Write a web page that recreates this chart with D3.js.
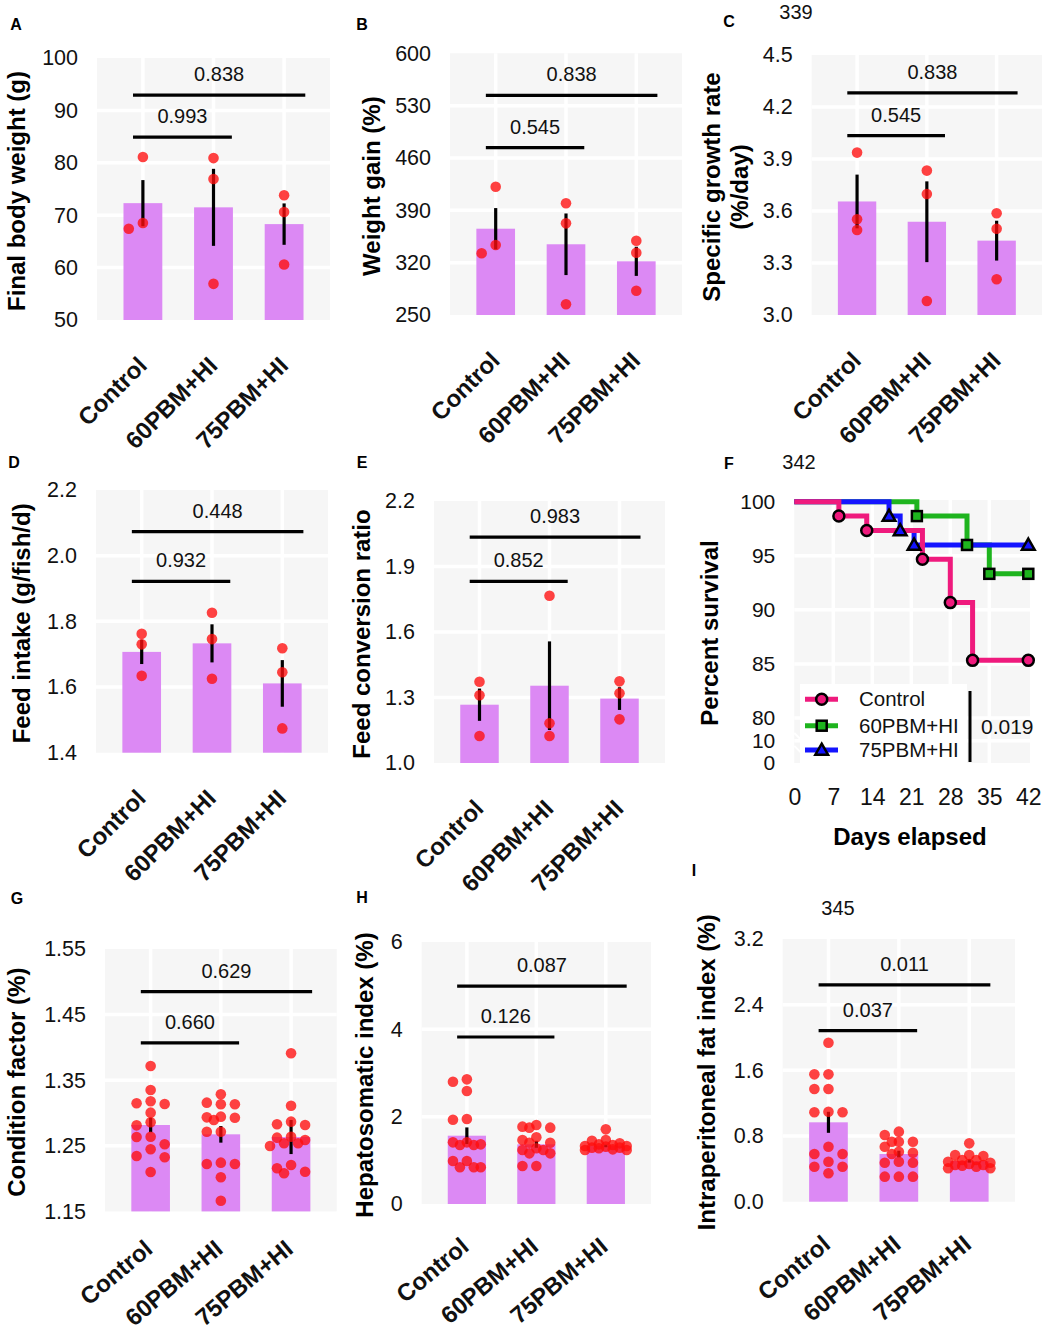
<!DOCTYPE html>
<html>
<head>
<meta charset="utf-8">
<script src="https://cdn.jsdelivr.net/npm/d3@7"></script>
<style>
body{margin:0;background:#fff}
svg{display:block;font-family:"Liberation Sans",Arial,sans-serif}
</style>
</head>
<body>
<svg id="fig" width="1048" height="1339"></svg>
<script>
const groups = ['Control','60PBM+HI','75PBM+HI']

// A final body weight
const fbwTicks = [50,60,70,80,90,100]
const fbwMean = [72.3,71.5,68.3]
const fbwSE = [4.4,7.35,3.95]
const fbwPoints = [[81.1,67.4,68.5],[80.9,76.9,56.9],[73.8,70.6,60.6]]
const fbwBracket = [84.9,92.9]
const fbwPval = ['0.993','0.838']

// B weight gain
const wgTicks = [250,320,390,460,530,600]
const wgMean = [365.4,344.6,321.8]
const wgSE = [27.6,41.2,19.5]
const wgPoints = [[421.6,332.5,343.6],[399.4,372.6,264.3],[349.4,333.3,282.5]]
const wgBracket = [473.8,543.6]
const wgPval = ['0.545','0.838']

// C specific growth rate
const sgrTicks = [3.0,3.3,3.6,3.9,4.2,4.5]
const sgrMean = [3.655,3.538,3.429]
const sgrSE = [0.155,0.233,0.115]
const sgrPoints = [[3.937,3.552,3.490],[3.833,3.698,3.081],[3.587,3.498,3.206]]
const sgrBracket = [4.035,4.281]
const sgrPval = ['0.545','0.838']

// D feed intake
const fiTicks = [1.4,1.6,1.8,2.0,2.2]
const fiMean = [1.707,1.733,1.611]
const fiSE = [0.037,0.058,0.071]
const fiPoints = [[1.762,1.730,1.634],[1.826,1.746,1.625],[1.718,1.645,1.474]]
const fiBracket = [1.922,2.073]
const fiPval = ['0.932','0.448']

// E feed conversion ratio
const fcrTicks = [1.0,1.3,1.6,1.9,2.2]
const fcrMean = [1.267,1.354,1.295]
const fcrSE = [0.074,0.203,0.052]
const fcrPoints = [[1.372,1.310,1.124],[1.766,1.182,1.124],[1.374,1.319,1.200]]
const fcrBracket = [1.832,2.035]
const fcrPval = ['0.852','0.983']

// F survival
const survGroups = ['Control','60PBM+HI','75PBM+HI']
const survDays = [[0,8,13,23,28,32,42],[0,22,31,35,42],[0,17,19,21.5,42]]
const survPct = [[100,98.67,97.33,94.67,90.67,85.33,85.33],[100,98.67,96.0,93.33,93.33],[100,98.67,97.33,96.0,96.0]]
const survXTicks = [0,7,14,21,28,35,42]
const survYTicks = [0,10,80,85,90,95,100]
const survPval = '0.019'

// G condition factor
const cfTicks = [1.15,1.25,1.35,1.45,1.55]
const cfMean = [1.2817,1.2675,1.2634]
const cfSE = [0.011,0.0127,0.026]
const cfPoints = [
  [1.3716,1.335,1.3148,1.3178,1.3137,1.3005,1.2858,1.2812,1.2639,1.2634,1.2523,1.2447,1.2325,1.2344,1.21],
  [1.3285,1.3133,1.3158,1.3133,1.2934,1.2944,1.2928,1.2893,1.2715,1.2715,1.2223,1.2243,1.2223,1.202,1.1663],
  [1.391,1.3111,1.2828,1.2868,1.2817,1.2588,1.2639,1.2497,1.2624,1.2538,1.2538,1.2207,1.2081,1.2105,1.2157]]
const cfBracket = [1.407,1.485]
const cfPval = ['0.660','0.629']

// H hepatosomatic index
const hsiTicks = [0,2,4,6]
const hsiMean = [1.564,1.367,1.33]
const hsiSE = [0.19,0.08,0.03]
const hsiPoints = [
  [2.801,2.855,2.588,1.946,1.931,1.412,1.351,1.366,1.351,1.412,0.985,0.985,0.84,0.84,0.84],
  [1.771,1.809,1.748,1.748,1.527,1.404,1.466,1.404,1.237,1.16,1.16,1.237,1.275,0.87,0.87],
  [1.71,1.466,1.45,1.389,1.313,1.29,1.366,1.351,1.237,1.237,1.275,1.29,1.252,1.328,1.328]]
const hsiBracket = [3.824,4.99]
const hsiPval = ['0.126','0.087']

// I intraperitoneal fat index
const ifiTicks = [0.0,0.8,1.6,2.4,3.2]
const ifiMean = [0.967,0.581,0.496]
const ifiSE = [0.128,0.04,0.02]
const ifiPoints = [
  [1.937,1.551,1.551,1.372,1.372,1.089,1.096,1.089,0.67,0.487,0.346,0.581,0.581,0.426,0.426],
  [0.853,0.812,0.731,0.731,0.731,0.67,0.581,0.597,0.609,0.475,0.475,0.487,0.305,0.305,0.305],
  [0.711,0.569,0.557,0.569,0.508,0.439,0.447,0.407,0.426,0.407,0.459,0.447,0.475,0.487,0.508]]
const ifiBracket = [2.083,2.64]
const ifiPval = ['0.037','0.011']

const BG = '#f6f6f6'
const BAR = '#dc89f4'
const PT = '#ff0d0d'
const survColors = ['#ef1a7d','#1eb41e','#1414ff']
const FONT = 'Liberation Sans, Arial, sans-serif'

const svg = d3.select('#fig')

// beeswarm-like offsets so close points sit side by side
let swarm = (vals, y, step, minDist) => {
    const order = vals.map((v,i)=>i).sort((a,b)=>vals[b]-vals[a])
    const cands = [0,-1,1,-0.5,0.5,-1.5,1.5]
    const placed = []
    const off = new Array(vals.length)
    order.forEach(i => {
        const py = y(vals[i])
        let best = 0, bestD = -1
        for (const c of cands){
            const same = placed.filter(p=>p.c===c)
            const d = same.length ? d3.min(same, p=>Math.abs(p.y-py)) : Infinity
            if (d >= minDist){ best = c; bestD = d; break }
            if (d > bestD){ bestD = d; best = c }
        }
        placed.push({c:best,y:py})
        off[i] = best*step
    })
    return off
}

let drawBarPanel = (p) => {
    const g = svg.append('g')
    const x = d3.scalePoint().domain(groups).range([p.left,p.right]).padding(0.65)
    const y = d3.scaleLinear().domain([p.ticks[0],p.ticks[p.ticks.length-1]]).range([p.bottom,p.top])
    const step = x.step()

    g.append('rect')
    .attr('x',p.left).attr('y',p.top)
    .attr('width',p.right-p.left).attr('height',p.bottom-p.top)
    .attr('fill',BG)

    g.selectAll('.hgrid').data(p.ticks.slice(1,-1)).enter().append('line')
    .attr('x1',p.left).attr('x2',p.right)
    .attr('y1',d=>y(d)).attr('y2',d=>y(d))
    .attr('stroke','#fff').attr('stroke-width',3.5)

    g.selectAll('.vgrid').data(groups).enter().append('line')
    .attr('x1',d=>x(d)).attr('x2',d=>x(d))
    .attr('y1',p.top).attr('y2',p.bottom)
    .attr('stroke','#fff').attr('stroke-width',3.5)

    g.selectAll('.bar').data(groups).enter().append('rect')
    .attr('x',d=>x(d)-step*0.275)
    .attr('width',step*0.55)
    .attr('y',(d,i)=>y(p.mean[i]))
    .attr('height',(d,i)=>p.bottom-y(p.mean[i]))
    .attr('fill',BAR)

    g.selectAll('.err').data(groups).enter().append('line')
    .attr('x1',d=>x(d)).attr('x2',d=>x(d))
    .attr('y1',(d,i)=>y(p.mean[i]-p.se[i]))
    .attr('y2',(d,i)=>y(p.mean[i]+p.se[i]))
    .attr('stroke','#000').attr('stroke-width',3.2)

    groups.forEach((grp,i) => {
        const off = swarm(p.pts[i], y, step*0.2, 9.5)
        g.selectAll(null).data(p.pts[i]).enter().append('circle')
        .attr('cx',(d,j)=>x(grp)+off[j])
        .attr('cy',d=>y(d))
        .attr('r',5.3)
        .attr('fill',PT).attr('fill-opacity',0.78)
    })

    // comparison brackets: Control vs 60PBM+HI, Control vs 75PBM+HI
    const pairs = [[0,1,0.26],[0,2,0.30]]
    pairs.forEach((pr,k) => {
        const x1 = x(groups[pr[0]]) - step*0.14
        const x2 = x(groups[pr[1]]) + step*pr[2]
        const yy = y(p.brk[k])
        g.append('line')
        .attr('x1',x1).attr('x2',x2).attr('y1',yy).attr('y2',yy)
        .attr('stroke','#000').attr('stroke-width',3.2)
        g.append('text')
        .attr('x',(x1+x2)/2).attr('y',yy-14)
        .attr('text-anchor','middle')
        .style('font-size','20px').attr('fill','#111')
        .text(p.pv[k])
    })

    // axes
    const ya = g.append('g')
    .attr('transform',`translate(${p.left},0)`)
    .call(d3.axisLeft(y).tickValues(p.ticks).tickFormat(d3.format(p.fmt)).tickSize(0).tickPadding(19))
    ya.select('.domain').remove()
    ya.selectAll('text').style('font-size','21.5px').attr('fill','#111').style('font-family',FONT)

    const xa = g.append('g')
    .attr('transform',`translate(0,${p.bottom})`)
    .call(d3.axisBottom(x).tickSize(0))
    xa.select('.domain').remove()
    xa.selectAll('text')
    .attr('x',0).attr('y',0).attr('dy',0)
    .attr('text-anchor','end')
    .attr('transform',p.lab)
    .style('font-size','24px').style('font-weight','bold').attr('fill','#111')
    .style('font-family',FONT)

    p.title.forEach((t,k) => {
        g.append('text')
        .attr('transform',`translate(${p.tx[k]},${(p.top+p.bottom)/2+2}) rotate(-90)`)
        .attr('text-anchor','middle').attr('dy','0.35em')
        .style('font-size','24px').style('font-weight','bold')
        .text(t)
    })

    svg.append('text')
    .attr('x',p.lx).attr('y',p.ly).attr('text-anchor','middle').attr('dy','0.36em')
    .style('font-size','16px').style('font-weight','bold')
    .text(p.letter)
}

const topLab = 'translate(5,47) rotate(-45)'
const barPanels = [
    {letter:'A',lx:16,ly:24,left:97,right:330,top:58,bottom:320,ticks:fbwTicks,fmt:'d',mean:fbwMean,se:fbwSE,pts:fbwPoints,brk:fbwBracket,pv:fbwPval,title:['Final body weight (g)'],tx:[17],lab:topLab},
    {letter:'B',lx:362,ly:24,left:450,right:682,top:53.3,bottom:315,ticks:wgTicks,fmt:'d',mean:wgMean,se:wgSE,pts:wgPoints,brk:wgBracket,pv:wgPval,title:['Weight gain (%)'],tx:[372],lab:topLab},
    {letter:'C',lx:729,ly:21,left:811.7,right:1042,top:55,bottom:315,ticks:sgrTicks,fmt:'.1f',mean:sgrMean,se:sgrSE,pts:sgrPoints,brk:sgrBracket,pv:sgrPval,title:['Specific growth rate','(%/day)'],tx:[712,740],lab:topLab},
    {letter:'D',lx:14,ly:462,left:96,right:328,top:490,bottom:752.7,ticks:fiTicks,fmt:'.1f',mean:fiMean,se:fiSE,pts:fiPoints,brk:fiBracket,pv:fiPval,title:['Feed intake (g/fish/d)'],tx:[22],lab:topLab},
    {letter:'E',lx:362,ly:462,left:434,right:665,top:501,bottom:763,ticks:fcrTicks,fmt:'.1f',mean:fcrMean,se:fcrSE,pts:fcrPoints,brk:fcrBracket,pv:fcrPval,title:['Feed conversion ratio'],tx:[362],lab:topLab},
    {letter:'G',lx:17,ly:898,left:105,right:336.7,top:949,bottom:1211.4,ticks:cfTicks,fmt:'.2f',mean:cfMean,se:cfSE,pts:cfPoints,brk:cfBracket,pv:cfPval,title:['Condition factor (%)'],tx:[17],lab:'translate(3,40) rotate(-40)'},
    {letter:'H',lx:362,ly:897,left:421.7,right:651,top:942,bottom:1204,ticks:hsiTicks,fmt:'d',mean:hsiMean,se:hsiSE,pts:hsiPoints,brk:hsiBracket,pv:hsiPval,title:['Hepatosomatic index (%)'],tx:[365],lab:'translate(3,45) rotate(-40)'},
    {letter:'I',lx:694,ly:870,left:782.7,right:1015,top:939,bottom:1201.7,ticks:ifiTicks,fmt:'.1f',mean:ifiMean,se:ifiSE,pts:ifiPoints,brk:ifiBracket,pv:ifiPval,title:['Intraperitoneal fat index (%)'],tx:[707],lab:'translate(3,45) rotate(-40)'}
]
barPanels.forEach(drawBarPanel)

// F: Kaplan-Meier survival
let drawSurvival = () => {
    const g = svg.append('g')
    const left = 794.3, right = 1030, top = 500, bottom = 763
    const x = d3.scaleLinear().domain([0,42]).range([794.3,1028.3])
    const y = d3.scaleLinear().domain([0,10,80,100]).range([763,740.7,718,501.7])

    g.append('rect').attr('x',left).attr('y',top).attr('width',right-left).attr('height',bottom-top).attr('fill',BG)
    g.selectAll('.hgrid').data(survYTicks.slice(1,-1)).enter().append('line')
    .attr('x1',left).attr('x2',right).attr('y1',d=>y(d)).attr('y2',d=>y(d))
    .attr('stroke','#fff').attr('stroke-width',3.5)
    g.selectAll('.vgrid').data(survXTicks.slice(1,-1)).enter().append('line')
    .attr('x1',d=>x(d)).attr('x2',d=>x(d)).attr('y1',top).attr('y2',bottom)
    .attr('stroke','#fff').attr('stroke-width',3.5)

    // axis break marks
    ;[15,5].forEach(v => {
        g.append('line')
        .attr('x1',left).attr('x2',left+7).attr('y1',y(v)-6).attr('y2',y(v)+1)
        .attr('stroke','#fff').attr('stroke-width',2)
    })

    // legend background
    g.append('rect').attr('x',800).attr('y',684).attr('width',167).attr('height',79).attr('fill','#fff')

    const line = d3.line().x(d=>x(d[0])).y(d=>y(d[1])).curve(d3.curveStepAfter)
    const drawOrder = [1,2,0]
    drawOrder.forEach(k => {
        const pts = survDays[k].map((d,i)=>[d,survPct[k][i]])
        g.append('path').attr('d',line(pts))
        .attr('fill','none').attr('stroke',survColors[k]).attr('stroke-width',5)
    })

    const marker = (sel,k,cx,cy) => {
        if (k===0){
            sel.append('circle').attr('cx',cx).attr('cy',cy).attr('r',5.5)
            .attr('fill',survColors[0]).attr('stroke','#000').attr('stroke-width',2.5)
        } else if (k===1){
            sel.append('rect').attr('x',cx-5).attr('y',cy-5).attr('width',10).attr('height',10)
            .attr('fill',survColors[1]).attr('stroke','#000').attr('stroke-width',2.5)
        } else {
            sel.append('path').attr('d',d3.symbol(d3.symbolTriangle,70)())
            .attr('transform',`translate(${cx},${cy+1})`)
            .attr('fill',survColors[2]).attr('stroke','#000').attr('stroke-width',2.5)
        }
    }
    drawOrder.forEach(k => {
        survDays[k].forEach((d,i) => { if (i>0) marker(g,k,x(d),y(survPct[k][i])) })
    })

    const ya = g.append('g').attr('transform',`translate(${left},0)`)
    .call(d3.axisLeft(y).tickValues(survYTicks).tickFormat(d3.format('d')).tickSize(0).tickPadding(19))
    ya.select('.domain').remove()
    ya.selectAll('text').style('font-size','21px').attr('fill','#111').style('font-family',FONT)

    const xa = g.append('g').attr('transform',`translate(0,${bottom})`)
    .call(d3.axisBottom(x).tickValues(survXTicks).tickFormat(d3.format('d')).tickSize(0).tickPadding(26))
    xa.select('.domain').remove()
    xa.selectAll('text').style('font-size','23px').attr('fill','#111').style('font-family',FONT)

    // legend
    const rows = [699.3,725.7,750]
    survGroups.forEach((name,k) => {
        g.append('line').attr('x1',805).attr('x2',838).attr('y1',rows[k]).attr('y2',rows[k])
        .attr('stroke',survColors[k]).attr('stroke-width',5)
        marker(g,k,821.7,rows[k])
        g.append('text').attr('x',859).attr('y',rows[k]).attr('dy','0.35em')
        .style('font-size','20.5px').attr('fill','#111').text(name)
    })
    g.append('line').attr('x1',970).attr('x2',970).attr('y1',691).attr('y2',762)
    .attr('stroke','#000').attr('stroke-width',3)
    g.append('text').attr('x',981).attr('y',727).attr('dy','0.35em')
    .style('font-size','21px').attr('fill','#111').text(survPval)

    g.append('text')
    .attr('transform','translate(710,633) rotate(-90)')
    .attr('text-anchor','middle').attr('dy','0.35em')
    .style('font-size','24px').style('font-weight','bold').text('Percent survival')
    g.append('text').attr('x',910).attr('y',837).attr('text-anchor','middle').attr('dy','0.35em')
    .style('font-size','24px').style('font-weight','bold').text('Days elapsed')

    svg.append('text').attr('x',729).attr('y',463).attr('text-anchor','middle').attr('dy','0.36em')
    .style('font-size','16px').style('font-weight','bold').text('F')
}
drawSurvival()

// stray line numbers printed in the figure
const strayNums = [['339',796,12],['342',799,462],['345',838,908]]
strayNums.forEach(s => {
    svg.append('text').attr('x',s[1]).attr('y',s[2]).attr('text-anchor','middle').attr('dy','0.35em')
    .style('font-size','20px').attr('fill','#111').text(s[0])
})
</script>
</body>
</html>
